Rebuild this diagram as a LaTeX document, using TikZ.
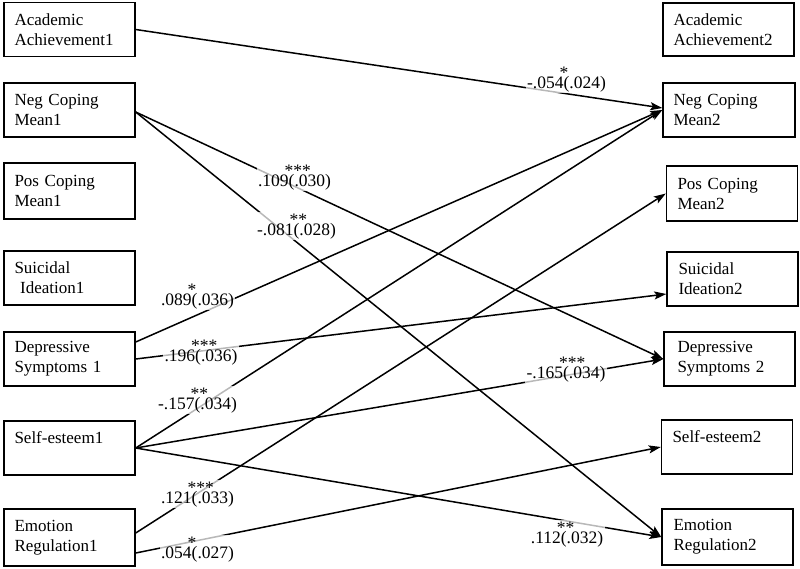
\documentclass[tikz,border=0pt]{standalone}
\usepackage{fontspec}
\setmainfont{Liberation Serif}
\usetikzlibrary{arrows.meta}
\newcommand\coefl[3]{#1\makebox[0pt][l]{\hspace{-4pt}\raisebox{0.55em}{#2}}(#3)}
\begin{document}
\begin{tikzpicture}[x=1pt,y=-1pt,
  box/.style={draw, line width=1.4pt, rectangle, minimum width=131pt, minimum height=54pt,
    text width=110pt, inner xsep=10.5pt, inner ysep=0pt, align=left, font=\fontsize{17}{20}\selectfont},
  link/.style={line width=1.5pt, -{Stealth[length=12pt,width=8pt,inset=2.5pt]}},
  coef/.style={font=\fontsize{17.5}{20}\selectfont, anchor=base, fill=white, fill opacity=0.72,
    text opacity=1, inner sep=1.5pt}]
\useasboundingbox (0,0) rectangle (800,568);
% left column
\node[box] (L1) at (69.5,29.5) {Academic\\Achievement1};
\node[box] (L2) at (69.5,110) {Neg Coping\\Mean1};
\node[box, minimum height=56pt] (L3) at (69.5,191) {Pos Coping\\Mean1};
\node[box] (L4) at (69.5,278) {Suicidal\\\ Ideation1};
\node[box] (L5) at (69.5,359) {Depressive\\Symptoms 1};
\node[box] (L6) at (69.5,448) {Self-esteem1\\\mbox{}};
\node[box, minimum height=57pt] (L7) at (69.5,537.5) {Emotion\\Regulation1};
% right column
\node[box, minimum height=53pt] (R1) at (728.5,29.5) {Academic\\Achievement2};
\node[box, text width=111pt] (R2) at (729,110) {Neg Coping\\Mean2};
\node[box, text width=109pt, minimum height=55pt] (R3) at (732,193.5) {Pos Coping\\Mean2};
\node[box, text width=108pt] (R4) at (732.5,279) {Suicidal\\Ideation2};
\node[box, text width=104pt] (R5) at (729.5,359) {Depressive\\Symptoms 2};
\node[box, text width=109pt] (R6) at (727,447) {Self-esteem2\\\mbox{}};
\node[box, text width=108pt, minimum height=56pt] (R7) at (727.5,537) {Emotion\\Regulation2};
% paths
\draw[link] (L1.east) -- ([yshift=2pt]R2.west);
\draw[link] ([yshift=-2pt]L2.east) -- (R5.west);
\draw[link] ([yshift=-2pt]L2.east) -- (R7.west);
\draw[link] ([yshift=17pt]L5.east) -- (R2.west);
\draw[link] (L5.east) -- ([yshift=-15pt]R4.west);
\draw[link] (L6.east) -- (R2.west);
\draw[link] (L6.east) -- (R5.west);
\draw[link] (L6.east) -- (R7.west);
\draw[link] ([yshift=4.5pt]L7.east) -- (R3.west);
\draw[link] ([yshift=-15.5pt]L7.east) -- (R6.west);
% coefficients
\node[coef] (c1) at (566.5,88) {\coefl{-.054}{*}{.024}};
\node[coef] (c2) at (294.5,186) {\coefl{.109}{***}{.030}};
\node[coef] (c3) at (296.5,235) {\coefl{-.081}{**}{.028}};
\node[coef] (c4) at (197.5,305) {\coefl{.089}{*}{.036}};
\node[coef] (c5) at (201,361) {\coefl{.196}{***}{.036}};
\node[coef] (c6) at (197.5,409) {\coefl{-.157}{**}{.034}};
\node[coef] (c7) at (197.5,503) {\coefl{.121}{***}{.033}};
\node[coef] (c8) at (197.5,558) {\coefl{.054}{*}{.027}};
\node[coef] (c9) at (566,378) {\coefl{-.165}{***}{.034}};
\node[coef] (c10) at (567,543) {\coefl{.112}{**}{.032}};
\end{tikzpicture}
\end{document}
